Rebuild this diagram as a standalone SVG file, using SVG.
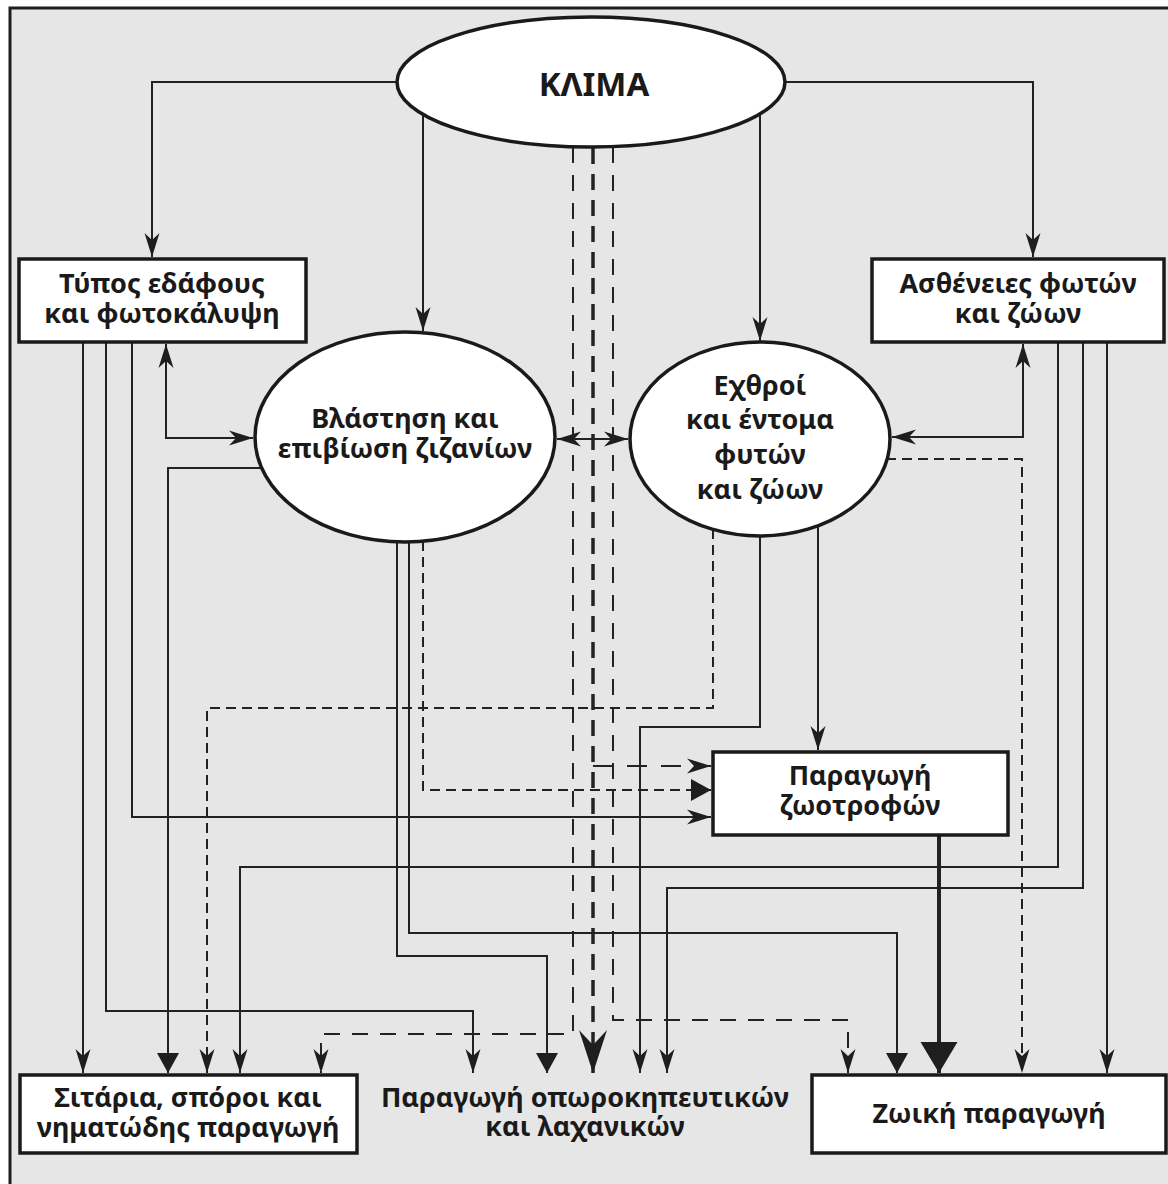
<svg xmlns="http://www.w3.org/2000/svg" width="1168" height="1184" viewBox="0 0 1168 1184">
<style>
.frame{fill:#e6e6e6;stroke:#1e1e1e;stroke-width:3}
.node{fill:#ffffff;stroke:#1a1a1a;stroke-width:3.5}
.t{font-family:"Noto Sans","Open Sans",sans-serif;font-weight:bold;font-size:27px;text-anchor:middle;fill:#1a1a1a}
.c{fill:none;stroke:#222;stroke-width:2}
.d{stroke-dasharray:10 6}
.ld{stroke-dasharray:16 12}
.xd{stroke-dasharray:20 14}
.thickd{stroke-width:3.5;stroke-dasharray:16 10}
.thick{stroke-width:4}
.an{marker-end:url(#a)}
.ab{marker-start:url(#a);marker-end:url(#a)}
.tr{marker-end:url(#tri)}
</style>
<defs>
<marker id="a" markerUnits="userSpaceOnUse" viewBox="-30 -15 32 30" markerWidth="32" markerHeight="30" refX="0" refY="0" orient="auto-start-reverse"><path d="M0,0 L-24,-7.5 L-17,0 L-24,7.5 Z" fill="#1e1e1e"/></marker>
<marker id="tri" markerUnits="userSpaceOnUse" viewBox="-30 -15 32 30" markerWidth="32" markerHeight="30" refX="0" refY="0" orient="auto"><path d="M0,0 L-20,-11 L-20,11 Z" fill="#1e1e1e"/></marker>
<marker id="big" markerUnits="userSpaceOnUse" viewBox="-40 -22 42 44" markerWidth="42" markerHeight="44" refX="0" refY="0" orient="auto"><path d="M0,0 L-31,-18.5 L-31,18.5 Z" fill="#1e1e1e"/></marker>
<marker id="bigd" markerUnits="userSpaceOnUse" viewBox="-50 -20 52 40" markerWidth="52" markerHeight="40" refX="0" refY="0" orient="auto"><path d="M0,0 L-43,-14 L-28,0 L-43,14 Z" fill="#1e1e1e"/></marker>
</defs>
<rect x="0" y="0" width="1168" height="1184" fill="#ffffff"/>
<rect class="frame" x="10" y="8" width="1180" height="1200"/>

<g id="connectors">
<path class="c an" d="M397,82 H152 V257"/>
<path class="c an" d="M785,82 H1033 V257"/>
<path class="c an" d="M423,114 V331"/>
<path class="c an" d="M760,114 V341"/>
<path class="c ab" d="M166,344 V438 H253"/>
<path class="c tr" d="M262,468 H168 V1073"/>
<path class="c an" d="M83,342 V1073"/>
<path class="c an" d="M106,342 V1011 H473 V1073"/>
<path class="c an" d="M132,342 V817 H711"/>
<path class="c ab" d="M557,439 H628"/>
<path class="c tr" d="M397,542 V956 H547 V1073"/>
<path class="c tr" d="M409,542 V933 H897 V1073"/>
<path class="c an" d="M760,536 V727 H640 V1073"/>
<path class="c an" d="M818,526 V750"/>
<path class="c ab" d="M1023,344 V437 H892"/>
<path class="c an" d="M1058,342 V867 H240 V1073"/>
<path class="c an" d="M1083,342 V888 H667 V1073"/>
<path class="c an" d="M1107,342 V1073"/>
<path class="c thick" d="M939,835 V1073" marker-end="url(#big)"/>
<path class="c d tr" d="M423,541 V790 H711"/>
<path class="c d an" d="M713,529 V708 H207 V1073"/>
<path class="c d an" d="M886,459 H1022 V1073"/>
<path class="c ld an" d="M573,147 V1034 H321 V1073"/>
<path class="c ld an" d="M613,147 V1020 H848 V1073"/>
<path class="c thickd" d="M593,148 V1073" marker-end="url(#bigd)"/>
<path class="c xd an" d="M593,766 H711"/>
</g>

<g id="klima">
<ellipse class="node" cx="591" cy="82" rx="194" ry="65"/>
<text class="t" x="594" y="96" style="font-size:33px">ΚΛΙΜΑ</text>
</g>
<g id="typos">
<rect class="node" x="19" y="259" width="287" height="83"/>
<text class="t" x="162" y="293">Τύπος εδάφους</text>
<text class="t" x="162" y="323">και φωτοκάλυψη</text>
</g>
<g id="astheneies">
<rect class="node" x="872" y="259" width="292" height="83"/>
<text class="t" x="1018" y="293">Ασθένειες φωτών</text>
<text class="t" x="1018" y="323">και ζώων</text>
</g>
<g id="blastisi">
<ellipse class="node" cx="405" cy="437" rx="150" ry="105"/>
<text class="t" x="405" y="428">Βλάστηση και</text>
<text class="t" x="405" y="458">επιβίωση ζιζανίων</text>
</g>
<g id="exthroi">
<ellipse class="node" cx="760" cy="439" rx="130" ry="97"/>
<text class="t" x="760" y="395">Εχθροί</text>
<text class="t" x="760" y="429">και έντομα</text>
<text class="t" x="760" y="464">φυτών</text>
<text class="t" x="760" y="499">και ζώων</text>
</g>
<g id="zootrofes">
<rect class="node" x="713" y="752" width="295" height="83"/>
<text class="t" x="860" y="785">Παραγωγή</text>
<text class="t" x="860" y="815">ζωοτροφών</text>
</g>
<g id="sitaria">
<rect class="node" x="20" y="1075" width="337" height="78"/>
<text class="t" x="188" y="1107">Σιτάρια, σπόροι και</text>
<text class="t" x="188" y="1137">νηματώδης παραγωγή</text>
</g>
<g id="oporokipeutika">
<text class="t" x="585" y="1107">Παραγωγή οπωροκηπευτικών</text>
<text class="t" x="585" y="1136">και λαχανικών</text>
</g>
<g id="zoiki">
<rect class="node" x="812" y="1075" width="354" height="78"/>
<text class="t" x="989" y="1123">Ζωική παραγωγή</text>
</g>
</svg>
